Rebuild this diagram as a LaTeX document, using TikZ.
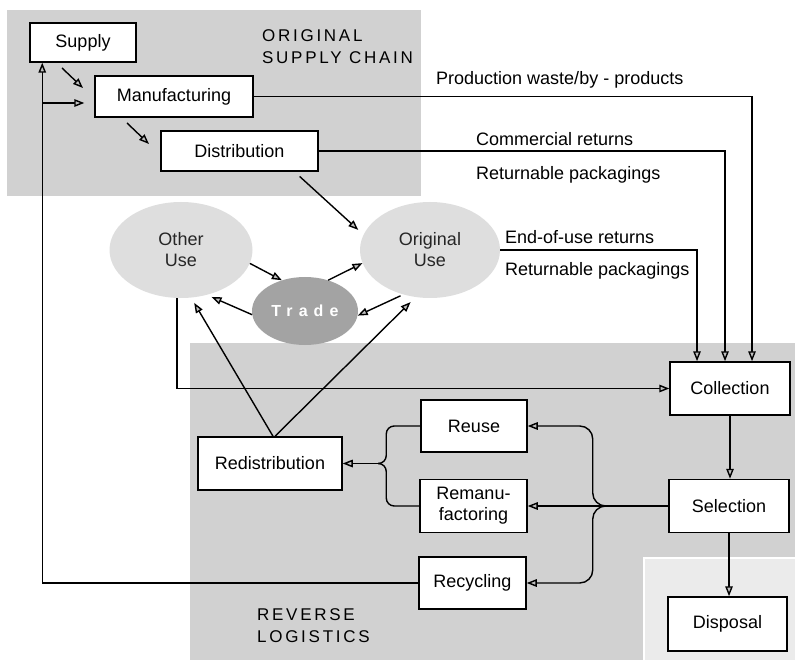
\documentclass[tikz,border=0pt]{standalone}
\usepackage{fontspec}
\setmainfont{Liberation Sans}
\newfontfamily\spacedfont[LetterSpace=16]{Liberation Sans}
\newfontfamily\tradefont[LetterSpace=38]{Liberation Sans}
\usetikzlibrary{arrows.meta,shapes.geometric,calc}

\newcommand\boxfont{\fontsize{18}{21}\selectfont}
\newcommand\capfont{\spacedfont\fontsize{17}{22}\selectfont}

\tikzset{
  zone/.style={fill=gray!36},
  zonetitle/.style={anchor=west, align=left, inner sep=0pt, font=\capfont},
  box/.style={draw, fill=white, line width=1.5pt, inner sep=0pt, align=center, font=\boxfont},
  blob/.style={ellipse, fill=gray!26, inner sep=0pt, align=center, text=black!85, font=\boxfont},
  flowlabel/.style={anchor=west, inner sep=0pt, font=\boxfont},
  line/.style={line width=1.4pt},
  flow/.style={line, -{Triangle[length=10pt,width=7.5pt,fill=gray!50]}},
}

\begin{document}
\begin{tikzpicture}[x=1pt,y=-1pt]
  \useasboundingbox (0,0) rectangle (795,660);

  % Shaded regions
  \fill[zone] (7,10) rectangle (421,196);
  \fill[zone] (190,343) rectangle (795,660);
  \filldraw[fill=gray!16, draw=white, line width=2pt] (644,558) rectangle (797,662);

  % Region titles
  \node[zonetitle] (osc) at (262,47) {ORIGINAL\\SUPPLY CHAIN};
  \node[zonetitle] (rl)  at (257,626) {REVERSE\\LOGISTICS};

  % Original supply chain
  \node[box, minimum width=106pt, minimum height=39pt] (supply)  at (83,42.5)   {Supply};
  \node[box, minimum width=158pt, minimum height=41pt] (manuf)   at (174,96.5)  {Manufacturing};
  \node[box, minimum width=157pt, minimum height=40pt] (distrib) at (239.5,151) {Distribution};

  % Use and trade
  \node[blob, minimum width=143pt, minimum height=96pt] (other)    at (181,250) {Other\\Use};
  \node[blob, minimum width=140pt, minimum height=96pt] (original) at (430,250) {Original\\Use};
  \node[blob, fill=gray!72, text=white, minimum width=106pt, minimum height=68pt,
        font=\tradefont\bfseries\fontsize{16}{18}\selectfont] (trade) at (305,311) {Trade};

  % Reverse logistics
  \node[box, minimum width=120pt, minimum height=53pt] (collection) at (730,388.5) {Collection};
  \node[box, minimum width=120pt, minimum height=53pt] (selection)  at (729,506)   {Selection};
  \node[box, minimum width=119pt, minimum height=54pt] (disposal)   at (727.5,624) {Disposal};
  \node[box, minimum width=106pt, minimum height=52pt] (reuse)      at (474,426)   {Reuse};
  \node[box, minimum width=107pt, minimum height=53pt] (reman)      at (473.5,506) {Remanu-\\factoring};
  \node[box, minimum width=107pt, minimum height=52pt] (recycl)     at (472.5,583) {Recycling};
  \node[box, minimum width=144pt, minimum height=53pt] (redistrib)  at (270,463.5) {Redistribution};

  % Flow labels
  \node[flowlabel] (wastelbl) at (436,80)  {Production waste/by - products};
  \node[flowlabel] (commlbl)  at (476,139) {Commercial returns};
  \node[flowlabel] (packlbl)  at (476,175) {Returnable packagings};
  \node[flowlabel] (eoulbl)   at (505,237) {End-of-use returns};
  \node[flowlabel] (pack2lbl) at (505,271) {Returnable packagings};

  % Forward flows
  \coordinate (sm1) at (62,68);
  \coordinate (sm2) at (83,88);
  \draw[flow] (sm1) -- (sm2);
  \coordinate (md1) at (127,123);
  \coordinate (md2) at (149,144);
  \draw[flow] (md1) -- (md2);
  \draw[flow, shorten <=7pt, shorten >=7pt] ([xshift=55pt]distrib.south) -- (original.167);

  % Trade between uses
  \draw[flow] (other.-11) -- (trade.127);
  \draw[flow] (trade.53) -- (original.191);
  \draw[flow, shorten <=3pt] (original.239) -- (trade.-5);
  \draw[flow, shorten >=5pt] (trade.184) -- (other.-60);

  % Returns to collection
  \draw[flow] (manuf.east) -| ([xshift=22pt]collection.north);
  \draw[flow] (distrib.east) -| ([xshift=-5pt]collection.north);
  \draw[flow] (original.east) -| ([xshift=-33pt]collection.north);
  \draw[flow] ([xshift=-4pt]other.south) |- (collection.west);

  % Collection, selection, disposal
  \draw[flow] (collection.south) -- (collection.south |- selection.north);
  \draw[flow] (selection.south) -- (selection.south |- disposal.north);

  % Fork to recovery options
  \coordinate (fork) at (609,506);
  \draw[line] (selection.west) -- (fork);
  \draw[flow] (fork) -- (reman.east);
  \draw[flow, rounded corners=13pt] (fork) -| ([xshift=65pt]reuse.east) -- (reuse.east);
  \draw[flow, rounded corners=13pt] (fork) -| ([xshift=66pt]recycl.east) -- (recycl.east);

  % Reuse and remanufacturing to redistribution
  \coordinate (join) at (378,463.5);
  \draw[flow] (join) -- (redistrib.east);
  \draw[line, rounded corners=8pt] (join) -| ([xshift=-34pt]reuse.west) -- (reuse.west);
  \draw[line, rounded corners=8pt] (join) -| ([xshift=-33pt]reman.west) -- (reman.west);

  % Redistribution back to the uses
  \draw[flow, shorten >=6pt] ([xshift=3pt]redistrib.north) -- (other.-78);
  \draw[flow, shorten >=7pt] ([xshift=5pt]redistrib.north) -- (original.253);

  % Recycling back to supply
  \draw[flow] (recycl.west) -| ([xshift=13pt]supply.south west);
  \coordinate (fb) at (43,103);
  \draw[flow, shorten >=10pt] (fb) -- (fb -| manuf.west);

\end{tikzpicture}
\end{document}
